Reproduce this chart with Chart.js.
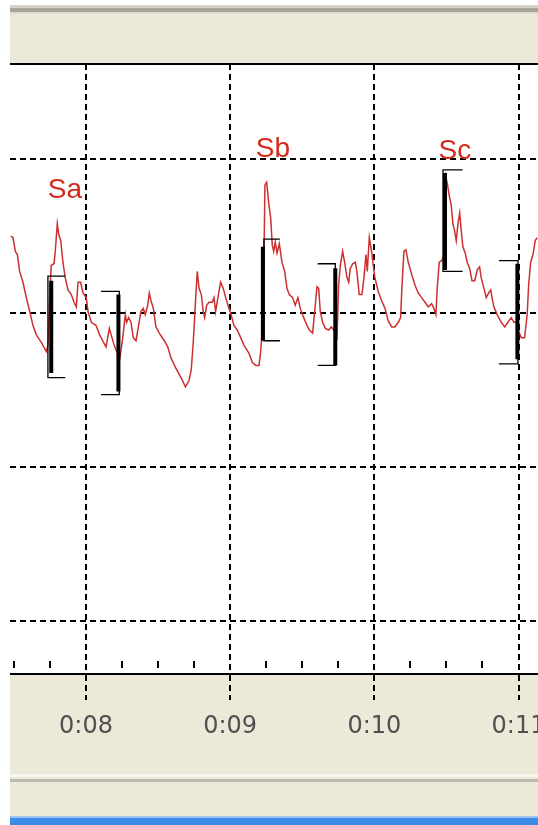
<!DOCTYPE html>
<html>
<head>
<meta charset="utf-8">
<script src="https://cdn.jsdelivr.net/npm/chart.js@4/dist/chart.umd.min.js"></script>
<style>
  html, body { margin: 0; padding: 0; background: #fff; }
  #frame { position: absolute; left: 10px; top: 0; width: 528px; height: 825px; background: #ece9d8; overflow: hidden; }
  .bar { position: absolute; left: 0; width: 100%; }
  #chart { position: absolute; left: 0; top: 0; }
</style>
</head>
<body>
<div id="frame">
  <div class="bar" style="top:0;height:5px;background:#fff"></div>
  <div class="bar" style="top:5px;height:3px;background:#d6d2c6"></div>
  <div class="bar" style="top:8px;height:4px;background:#a8a498"></div>
  <div class="bar" style="top:12px;height:2px;background:#dedad0"></div>
  <div class="bar" style="top:774px;height:3px;background:#f7f5ec"></div>
  <div class="bar" style="top:779px;height:3px;background:#bdb9ad"></div>
  <div class="bar" style="top:816px;height:2px;background:#9fc3ee"></div>
  <div class="bar" style="top:818px;height:7px;background:#3b8ce6"></div>
  <canvas id="chart" width="528" height="825"></canvas>
</div>
<script>
// senal (segundos, amplitud)
const sigT = [7.478,7.494,7.510,7.524,7.540,7.563,7.586,7.610,7.632,7.655,7.690,7.725,7.736,7.748,7.759,7.778,7.787,7.801,7.811,7.825,
  7.840,7.856,7.875,7.898,7.917,7.933,7.945,7.963,7.979,8.002,8.014,8.037,8.069,8.094,8.116,8.139,8.162,8.180,8.196,8.213,
  8.236,8.255,8.273,8.282,8.296,8.312,8.328,8.347,8.365,8.381,8.397,8.411,8.428,8.439,8.451,8.467,8.485,8.508,8.543,8.567,
  8.589,8.624,8.659,8.690,8.714,8.730,8.744,8.761,8.772,8.784,8.800,8.813,8.823,8.837,8.853,8.876,8.888,8.899,8.915,8.934,
  8.952,8.969,8.985,9.003,9.026,9.049,9.073,9.096,9.130,9.153,9.177,9.200,9.212,9.223,9.234,9.241,9.253,9.269,9.281,9.292,
  9.302,9.313,9.325,9.341,9.359,9.378,9.394,9.410,9.433,9.451,9.470,9.486,9.510,9.533,9.549,9.572,9.586,9.602,9.614,9.625,
  9.641,9.660,9.683,9.701,9.718,9.741,9.752,9.764,9.780,9.794,9.810,9.822,9.833,9.850,9.868,9.879,9.895,9.914,9.928,9.942,
  9.951,9.965,9.981,9.992,10.004,10.027,10.051,10.074,10.096,10.120,10.143,10.166,10.182,10.191,10.205,10.219,10.235,10.259,10.282,10.304,
  10.328,10.351,10.374,10.397,10.413,10.427,10.436,10.450,10.467,10.486,10.497,10.506,10.522,10.533,10.545,10.557,10.568,10.580,10.592,10.603,
  10.614,10.630,10.644,10.661,10.677,10.696,10.714,10.730,10.741,10.760,10.776,10.793,10.807,10.816,10.829,10.852,10.880,10.904,10.927,10.949,
  10.968,10.984,11.001,11.019,11.042,11.060,11.070,11.084,11.100,11.116,11.130];
const sigV = [2.50,2.49,2.40,2.38,2.27,2.20,2.10,2.01,1.92,1.86,1.81,1.75,1.79,2.10,2.31,2.32,2.40,2.58,2.51,2.47,
  2.33,2.23,2.15,2.12,2.07,2.04,2.20,2.20,2.13,2.10,2.01,1.94,1.92,1.86,1.82,1.78,1.90,1.84,1.79,1.75,
  1.71,1.84,1.99,1.94,1.97,1.94,1.84,1.82,1.92,2.01,2.03,1.99,2.05,2.13,2.08,2.03,1.91,1.87,1.82,1.78,
  1.71,1.64,1.58,1.52,1.56,1.63,1.81,2.10,2.27,2.16,2.12,2.01,1.97,2.05,2.07,2.07,2.10,2.01,2.10,2.20,
  2.16,2.10,2.05,2.00,1.92,1.89,1.84,1.79,1.74,1.68,1.66,1.66,1.75,1.90,2.31,2.83,2.85,2.70,2.62,2.44,
  2.40,2.46,2.39,2.45,2.33,2.27,2.16,2.12,2.10,2.05,2.10,2.03,1.97,1.92,1.89,1.87,2.01,2.17,2.16,2.01,
  1.94,1.90,1.89,1.91,1.89,1.84,2.18,2.31,2.40,2.33,2.23,2.20,2.29,2.32,2.33,2.27,2.12,2.12,2.23,2.38,
  2.27,2.49,2.40,2.31,2.23,2.14,2.08,2.03,1.95,1.91,1.91,1.94,1.97,2.16,2.40,2.41,2.33,2.25,2.18,2.13,
  2.10,2.07,2.04,2.06,2.03,1.99,2.16,2.33,2.34,2.38,2.88,2.84,2.75,2.70,2.58,2.53,2.47,2.58,2.65,2.53,
  2.43,2.39,2.33,2.29,2.21,2.21,2.28,2.30,2.23,2.16,2.10,2.13,2.15,2.10,2.04,1.99,1.94,1.91,1.94,1.97,
  1.94,1.94,1.88,1.84,1.84,1.99,2.18,2.33,2.38,2.47,2.49];

// corchetes de medida
const brkSpine = [7.736, 8.231, 9.234, 9.729, 10.476, 10.996];
const brkCapEnd = [7.856, 8.104, 9.345, 9.607, 10.612, 10.864];
const brkTop = [2.24, 2.14, 2.48, 2.32, 2.93, 2.34];
const brkBot = [1.58, 1.47, 1.82, 1.66, 2.27, 1.67];
const barT = [7.759, 8.225, 9.227, 9.729, 10.490, 10.992];
const barTop = [2.21, 2.12, 2.43, 2.29, 2.91, 2.32];
const barBot = [1.61, 1.49, 1.82, 1.66, 2.28, 1.70];

// etiquetas
const labelText = ["Sa", "Sb", "Sc"];
const labelT = [7.854, 9.297, 10.559];
const labelV = [2.75, 3.01, 3.00];

// ejes
const xTicks = [8, 9, 10, 11];
const xTickLabels = ["0:08", "0:09", "0:10", "0:11"];
const minorTicks = [7.5, 7.75, 8.25, 8.5, 8.75, 9.25, 9.5, 9.75, 10.25, 10.5, 10.75];
const yGrid = [0, 1, 2, 3];

const signal = sigT.map((t, i) => ({ x: t, y: sigV[i] }));

const thin = [];
const thick = [];
brkSpine.forEach((s, i) => {
  thin.push({ x: brkCapEnd[i], y: brkTop[i] }, { x: s, y: brkTop[i] }, { x: s, y: brkBot[i] }, { x: brkCapEnd[i], y: brkBot[i] }, { x: s, y: null });
  thick.push({ x: barT[i], y: barTop[i] }, { x: barT[i], y: barBot[i] }, { x: barT[i], y: null });
});

const extras = {
  id: "extras",
  beforeDraw(chart) {
    const { ctx, chartArea: a } = chart;
    ctx.save();
    ctx.fillStyle = "#fff";
    ctx.fillRect(a.left, a.top, a.right - a.left, a.bottom - a.top);
    ctx.restore();
  },
  afterDraw(chart) {
    const { ctx, chartArea: a } = chart;
    const xs = chart.scales.x, ys = chart.scales.y;
    ctx.save();
    // linea superior
    ctx.strokeStyle = "#000";
    ctx.lineWidth = 2;
    ctx.beginPath();
    ctx.moveTo(a.left, a.top);
    ctx.lineTo(a.right, a.top);
    ctx.stroke();
    // marcas menores
    minorTicks.forEach(t => {
      const px = Math.round(xs.getPixelForValue(t));
      ctx.beginPath();
      ctx.moveTo(px, a.bottom - 13);
      ctx.lineTo(px, a.bottom - 6);
      ctx.stroke();
    });
    // Sa Sb Sc
    ctx.fillStyle = "#d42a1c";
    ctx.font = '28px "Liberation Sans", Arial, sans-serif';
    ctx.textAlign = "center";
    ctx.textBaseline = "alphabetic";
    labelText.forEach((s, i) => {
      ctx.fillText(s, xs.getPixelForValue(labelT[i]), ys.getPixelForValue(labelV[i]));
    });
    ctx.restore();
  }
};

new Chart(document.getElementById("chart"), {
  type: "line",
  data: {
    datasets: [
      { data: thick, borderColor: "#000", borderWidth: 4, pointRadius: 0, spanGaps: false, order: 0, borderCapStyle: "butt" },
      { data: thin, borderColor: "#000", borderWidth: 1.3, pointRadius: 0, spanGaps: false, order: 0 },
      { data: signal, borderColor: "#cc3030", borderWidth: 1.5, pointRadius: 0, tension: 0, order: 1 }
    ]
  },
  options: {
    responsive: false,
    animation: false,
    devicePixelRatio: 1,
    layout: { padding: { top: 64, bottom: 85, left: 0, right: 0 } },
    plugins: { legend: { display: false }, tooltip: { enabled: false } },
    scales: {
      x: {
        type: "linear",
        min: 7.473,
        max: 11.135,
        afterBuildTicks: s => { s.ticks = xTicks.map(v => ({ value: v })); },
        afterFit: s => { s.paddingLeft = 0; s.paddingRight = 0; s.height = 66; },
        ticks: {
          callback: (v) => xTickLabels[xTicks.indexOf(v)],
          color: "#505050",
          font: { family: '"DejaVu Sans", sans-serif', size: 24 },
          padding: 12,
          maxRotation: 0,
          autoSkip: false
        },
        grid: { color: "#000", lineWidth: 2, tickLength: 26, tickColor: "#000", tickWidth: 2, tickBorderDash: [6, 4] },
        border: { display: true, color: "#000", width: 2, dash: [6, 4] }
      },
      y: {
        min: -0.344,
        max: 3.617,
        afterBuildTicks: s => { s.ticks = yGrid.map(v => ({ value: v })); },
        ticks: { display: false },
        grid: { color: "#000", lineWidth: 2, drawTicks: false },
        border: { display: false, dash: [6, 4] }
      }
    }
  },
  plugins: [extras]
});
</script>
</body>
</html>
